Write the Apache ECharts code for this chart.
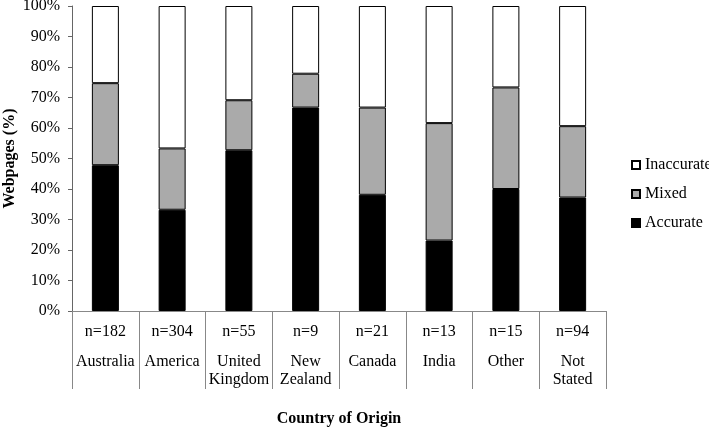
<!DOCTYPE html>
<html><head><meta charset="utf-8">
<script src="https://cdn.jsdelivr.net/npm/echarts@6/dist/echarts.min.js"></script>
<style>html,body{margin:0;padding:0;background:#fff}#c{width:709px;height:428px}</style>
</head><body><div id="c"></div>
<script>
const categories = ['Australia', 'America', 'United\nKingdom', 'New\nZealand', 'Canada', 'India', 'Other', 'Not\nStated'];
const counts = [182, 304, 55, 9, 21, 13, 15, 94];
const accurate = [47.8, 33.2, 52.7, 66.7, 38.1, 23.1, 40.0, 37.2];
const mixed = [26.9, 20.1, 16.4, 11.1, 28.6, 38.5, 33.3, 23.4];
const inaccurate = [25.3, 46.7, 30.9, 22.2, 33.3, 38.4, 26.7, 39.4];
const yTicks = [0, 10, 20, 30, 40, 50, 60, 70, 80, 90, 100];

const FONT = "'Liberation Serif', 'Times New Roman', serif";
const chart = echarts.init(document.getElementById('c'));
const barStyle = (color) => ({ color: color, borderColor: '#000', borderWidth: 1 });
chart.setOption({
  animation: false,
  textStyle: { fontFamily: FONT, color: '#000' },
  grid: { left: 72, right: 103, top: 6, bottom: 117, containLabel: false, outerBoundsMode: 'none' },
  legend: {
    orient: 'vertical', left: 626, top: 152,
    itemWidth: 8, itemHeight: 8, itemGap: 13,
    icon: 'rect',
    textStyle: { fontFamily: FONT, fontSize: 16, color: '#000' },
    data: ['Inaccurate', 'Mixed', 'Accurate']
  },
  xAxis: {
    type: 'category',
    data: categories,
    name: 'Country of Origin',
    nameLocation: 'middle',
    nameGap: 100,
    nameMoveOverlap: false,
    nameTextStyle: { fontFamily: FONT, fontSize: 16, fontWeight: 'bold', color: '#000' },
    axisLine: { show: true, lineStyle: { color: '#888', width: 1 } },
    axisTick: { show: true, interval: 0, length: 78, lineStyle: { color: '#888', width: 1 } },
    axisLabel: {
      interval: 0, margin: 0,
      formatter: function (v, i) {
        return '{n|n=' + counts[i] + '}\n' + v.split('\n').map(s => '{c|' + s + '}').join('\n');
      },
      rich: {
        n: { fontFamily: FONT, fontSize: 16, lineHeight: 42, color: '#000' },
        c: { fontFamily: FONT, fontSize: 16, lineHeight: 18, color: '#000' }
      }
    }
  },
  yAxis: {
    type: 'value', min: 0, max: 100, interval: 10,
    name: 'Webpages (%)',
    nameLocation: 'middle',
    nameGap: 54,
    nameMoveOverlap: false,
    nameRotate: 90,
    nameTextStyle: { fontFamily: FONT, fontSize: 16, fontWeight: 'bold', color: '#000' },
    axisLine: { show: true, lineStyle: { color: '#666', width: 1 } },
    axisTick: { show: true, length: 4, lineStyle: { color: '#666' } },
    splitLine: { show: false },
    axisLabel: { formatter: v => yTicks.includes(v) ? v + '%' : '', fontFamily: FONT, fontSize: 16, color: '#000', margin: 12 }
  },
  series: [
    { name: 'Accurate', type: 'bar', stack: 's', barWidth: 27, data: accurate, itemStyle: barStyle('#000') },
    { name: 'Mixed', type: 'bar', stack: 's', barWidth: 27, data: mixed, itemStyle: barStyle('#aaaaaa') },
    { name: 'Inaccurate', type: 'bar', stack: 's', barWidth: 27, data: inaccurate, itemStyle: barStyle('#ffffff') }
  ]
});
</script></body></html>
